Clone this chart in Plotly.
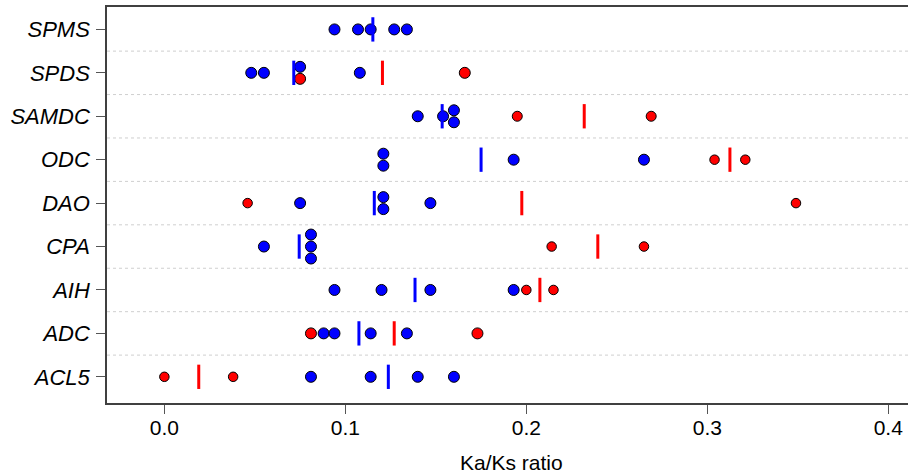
import plotly.graph_objects as go

# ---------------- data ----------------
genes = ["ACL5", "ADC", "AIH", "CPA", "DAO", "ODC", "SAMDC", "SPDS", "SPMS"]

blue_values = [
    [0.081, 0.114, 0.140, 0.160],          # ACL5
    [0.088, 0.094, 0.114, 0.134],          # ADC
    [0.094, 0.120, 0.147, 0.193],          # AIH
    [0.055, 0.081, 0.081, 0.081],          # CPA
    [0.075, 0.121, 0.121, 0.147],          # DAO
    [0.121, 0.121, 0.193, 0.265],          # ODC
    [0.140, 0.154, 0.160, 0.160],          # SAMDC
    [0.048, 0.055, 0.075, 0.108],          # SPDS
    [0.094, 0.107, 0.114, 0.127, 0.134],   # SPMS
]

red_values = [
    [0.000, 0.038],   # ACL5
    [0.081, 0.173],   # ADC
    [0.200, 0.215],   # AIH
    [0.214, 0.265],   # CPA
    [0.046, 0.349],   # DAO
    [0.304, 0.321],   # ODC
    [0.195, 0.269],   # SAMDC
    [0.075, 0.166],   # SPDS
    [],               # SPMS
]

x_tick_vals = [0.0, 0.1, 0.2, 0.3, 0.4]
x_tick_text = ["0.0", "0.1", "0.2", "0.3", "0.4"]
x_title = "Ka/Ks ratio"

# ---------------- style ----------------
BLUE = "#0000FF"
RED = "#FF0000"
STACK = 0.276          # vertical step between identical values (stacked points)
HALF_BAR = 0.28        # half height of mean markers
FONT = "Liberation Sans, Arial, Helvetica, sans-serif"
red_size_by_gene = {"SPDS": 11, "ADC": 11, "SAMDC": 10}
RED_SIZE_DEFAULT = 9.5
BLUE_SIZE = 11

bx, by, rx, ry, rs = [], [], [], [], []
bmx, bmy, rmx, rmy = [], [], [], []
for i, g in enumerate(genes):
    items = [("b", v) for v in blue_values[i]] + [("r", v) for v in red_values[i]]
    groups = {}
    for k, (_, v) in enumerate(items):
        groups.setdefault(round(v, 6), []).append(k)
    offs = [0.0] * len(items)
    for idxs in groups.values():
        n = len(idxs)
        for j, k in enumerate(idxs):
            offs[k] = ((n - 1) / 2 - j) * STACK
    for k, (c, v) in enumerate(items):
        if c == "b":
            bx.append(v); by.append(i + offs[k])
        else:
            rx.append(v); ry.append(i + offs[k])
            rs.append(red_size_by_gene.get(g, RED_SIZE_DEFAULT))
    if blue_values[i]:
        m = sum(blue_values[i]) / len(blue_values[i])
        bmx += [m, m, None]; bmy += [i - HALF_BAR, i + HALF_BAR, None]
    if red_values[i]:
        m = sum(red_values[i]) / len(red_values[i])
        rmx += [m, m, None]; rmy += [i - HALF_BAR, i + HALF_BAR, None]

fig = go.Figure()
fig.add_trace(go.Scatter(x=bx, y=by, mode="markers",
                         marker=dict(color=BLUE, size=BLUE_SIZE, opacity=1,
                                     line=dict(color="black", width=1)),
                         showlegend=False, hoverinfo="x"))
fig.add_trace(go.Scatter(x=rx, y=ry, mode="markers",
                         marker=dict(color=RED, size=rs, opacity=1,
                                     line=dict(color="black", width=1)),
                         showlegend=False, hoverinfo="x"))
fig.add_trace(go.Scatter(x=bmx, y=bmy, mode="lines", line=dict(color=BLUE, width=3),
                         showlegend=False, hoverinfo="skip"))
fig.add_trace(go.Scatter(x=rmx, y=rmy, mode="lines", line=dict(color=RED, width=3),
                         showlegend=False, hoverinfo="skip"))

for i in range(len(genes) - 1):
    fig.add_shape(type="line", xref="paper", x0=0, x1=1, yref="y", y0=i + 0.5, y1=i + 0.5,
                  line=dict(color="#cfcfcf", width=1, dash="dot"), layer="below")

fig.add_annotation(text=x_title, xref="paper", yref="paper", x=0.5056, y=-0.1515,
                   xanchor="center", yanchor="middle", showarrow=False,
                   font=dict(family=FONT, size=21, color="black"))

fig.update_layout(
    width=908, height=475,
    margin=dict(l=107, r=0, t=7, b=72),
    plot_bgcolor="white", paper_bgcolor="white",
    font=dict(family=FONT, color="black"),
)
fig.update_xaxes(
    range=[-0.0317, 0.4109], tickmode="array", tickvals=x_tick_vals, ticktext=x_tick_text,
    ticks="outside", ticklen=9, tickwidth=1, tickcolor="#555555",
    showline=True, linecolor="#404040", linewidth=1.5, mirror=True,
    showgrid=False, zeroline=False, ticklabelstandoff=-4,
    tickfont=dict(family=FONT, size=21, color="black"),
)
fig.update_yaxes(
    range=[-0.603, 8.516], tickmode="array", tickvals=list(range(len(genes))), ticktext=genes,
    ticks="outside", ticklen=9, tickwidth=1, tickcolor="#555555",
    showline=True, linecolor="#404040", linewidth=1.5, mirror=False,
    showgrid=False, zeroline=False, ticklabelstandoff=2,
    tickfont=dict(family=FONT, size=22, color="black", style="italic"),
)

fig.write_html("out.html")
